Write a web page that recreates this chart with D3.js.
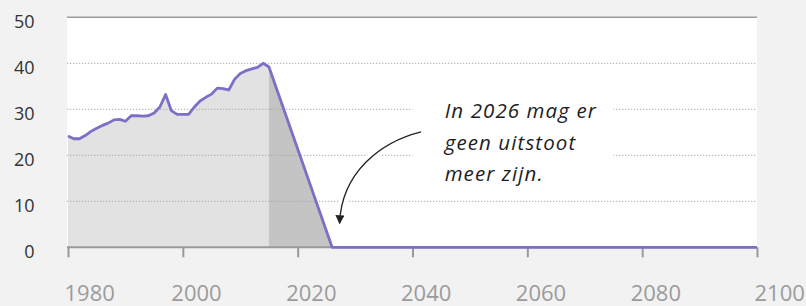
<!DOCTYPE html>
<html>
<head>
<meta charset="utf-8">
<script src="https://cdn.jsdelivr.net/npm/d3@7"></script>
<style>
  html, body { margin: 0; padding: 0; background: #f2f2f2; }
  svg { display: block; }
</style>
</head>
<body>
<svg id="chart" width="806" height="306"></svg>
<script>
// ---- data ----
const years = [1980,1981,1982,1983,1984,1985,1986,1987,1988,1989,1990,1991,1992,1993,1994,1995,1996,1997,1998,1999,2000,2001,2002,2003,2004,2005,2006,2007,2008,2009,2010,2011,2012,2013,2014,2015,2026,2100];
const emissions = [24.2,23.6,23.6,24.3,25.2,25.9,26.5,27.0,27.7,27.8,27.4,28.6,28.6,28.5,28.6,29.2,30.5,33.2,29.7,28.9,28.9,28.9,30.5,31.8,32.6,33.3,34.6,34.5,34.2,36.5,37.8,38.4,38.8,39.1,40.0,39.2,0,0];
const historyEnd = 2015;
const phaseOutEnd = 2026;
const xTicks = [1980,2000,2020,2040,2060,2080,2100];
const yTicks = [0,10,20,30,40,50];
const annotationLines = ["In 2026 mag er", "geen uitstoot", "meer zijn."];

const data = years.map((y, i) => ({ year: y, value: emissions[i] }));

const svg = d3.select("#chart");
const x = d3.scaleLinear().domain([1980, 2100]).range([68, 757]);
const y = d3.scaleLinear().domain([0, 50]).range([247.3, 17.3]);

const left = x.range()[0] - 1, right = x.range()[1];

// plot background
svg.append("rect")
  .attr("x", left).attr("y", y(50))
  .attr("width", right - left).attr("height", y(0) - y(50))
  .attr("fill", "#ffffff");

// areas
const area = d3.area().x(d => x(d.year)).y0(y(0)).y1(d => y(d.value));
svg.append("path")
  .datum(data.filter(d => d.year <= historyEnd))
  .attr("d", area).attr("fill", "#e2e2e2");
svg.append("path")
  .datum(data.filter(d => d.year >= historyEnd && d.year <= phaseOutEnd))
  .attr("d", area).attr("fill", "#c4c4c4");

// gridlines
svg.append("g").selectAll("line")
  .data(yTicks.filter(t => t > 0 && t < 50))
  .join("line")
  .attr("x1", left).attr("x2", right)
  .attr("y1", d => y(d)).attr("y2", d => y(d))
  .attr("stroke", "#a8a8a8").attr("stroke-width", 1)
  .attr("stroke-dasharray", "1.3,1.7");

// top line
svg.append("line")
  .attr("x1", left).attr("x2", right)
  .attr("y1", y(50)).attr("y2", y(50))
  .attr("stroke", "#9a9a9a").attr("stroke-width", 1.6);

// x axis
const xAxis = d3.axisBottom(x).tickValues(xTicks).tickSize(10).tickFormat(d3.format("d"));
const gx = svg.append("g").attr("transform", `translate(0,${y(0)})`).call(xAxis);
gx.select(".domain").attr("stroke", "#9a9a9a").attr("stroke-width", 2)
  .attr("d", `M${left},0H${right}`);
gx.selectAll(".tick line").attr("stroke", "#9a9a9a").attr("stroke-width", 2);
gx.selectAll(".tick text")
  .attr("fill", "#9b9b9b")
  .style("font-family", "'Open Sans', sans-serif")
  .style("font-size", "22px")
  .attr("text-anchor", "start")
  .attr("y", 0).attr("dy", 0)
  .attr("transform", "translate(0,54)")
  .attr("x", (d, i, n) => i === 0 ? -4 : (i === n.length - 1 ? -3 : -12));

// y axis labels
const yAxis = d3.axisLeft(y).tickValues(yTicks).tickSize(0).tickPadding(0);
const gy = svg.append("g").attr("transform", `translate(34.5,4)`).call(yAxis);
gy.select(".domain").remove();
gy.selectAll(".tick text")
  .attr("fill", "#333333")
  .style("font-family", "'Open Sans', sans-serif")
  .style("font-size", "18px");

// line
const line = d3.line().x(d => x(d.year)).y(d => y(d.value));
svg.append("path")
  .datum(data)
  .attr("d", line)
  .attr("fill", "none")
  .attr("stroke", "#7c70c6")
  .attr("stroke-width", 2.8)
  .attr("stroke-linejoin", "round");

// annotation background
const tx = x(2045.6);
const ty = y(28.1);
svg.append("rect")
  .attr("x", x(2040)).attr("y", y(33))
  .attr("width", x(2075) - x(2040)).attr("height", y(15) - y(33))
  .attr("fill", "#ffffff");

// arrow
svg.append("defs").append("marker")
  .attr("id", "ah").attr("viewBox", "0 0 10 10")
  .attr("refX", 9).attr("refY", 5)
  .attr("markerWidth", 9).attr("markerHeight", 9)
  .attr("markerUnits", "userSpaceOnUse")
  .attr("orient", "auto")
  .append("path").attr("d", "M0,0L10,5L0,10Z").attr("fill", "#222");

const ax0 = x(2041.5), ay0 = y(25.1);
const ax1 = x(2027.3), ay1 = y(5.2);
const arrowD = `M${ax0},${ay0} C${ax0 - 40},${ay0 + 10} ${ax1 + 2},${ay0 + 40} ${ax1},${ay1}`;
svg.append("path").attr("d", arrowD)
  .attr("fill", "none").attr("stroke", "#ffffff").attr("stroke-width", 8);
svg.append("path").attr("d", arrowD)
  .attr("fill", "none").attr("stroke", "#222").attr("stroke-width", 1.3)
  .attr("marker-end", "url(#ah)");

// annotation text
const t = svg.append("text")
  .attr("x", tx).attr("y", ty)
  .attr("fill", "#1e1e1e")
  .style("font-family", "'Open Sans', sans-serif")
  .style("font-style", "italic")
  .style("font-size", "20.5px")
  .style("letter-spacing", "1.1px");
t.selectAll("tspan").data(annotationLines).join("tspan")
  .attr("x", tx).attr("dy", (d, i) => i === 0 ? 0 : 31.5)
  .text(d => d);
</script>
</body>
</html>
